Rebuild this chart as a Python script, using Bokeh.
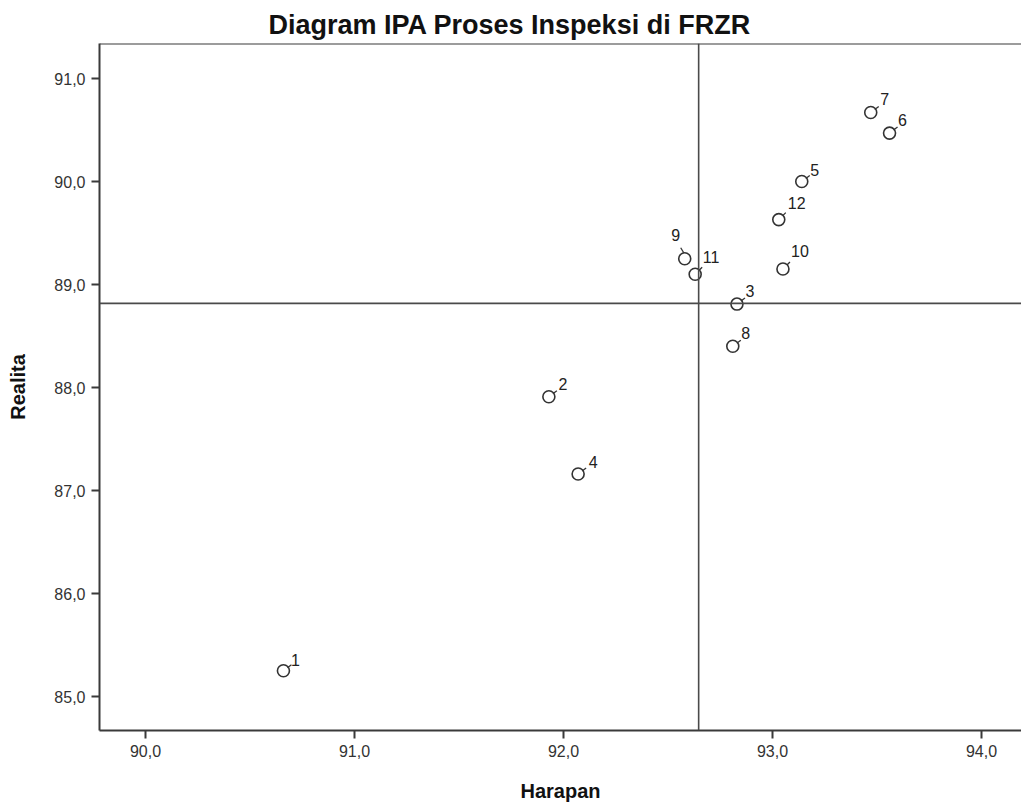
from bokeh.plotting import figure
from bokeh.models import Range1d, FixedTicker, Span, ColumnDataSource
from bokeh.core.properties import value
from bokeh.embed import file_html
from bokeh.resources import INLINE

# ---- data ----
point_ids = ["1", "2", "3", "4", "5", "6", "7", "8", "9", "10", "11", "12"]
harapan = [90.66, 91.93, 92.83, 92.07, 93.14, 93.56, 93.47, 92.81, 92.58, 93.05, 92.63, 93.03]
realita = [85.25, 87.91, 88.81, 87.16, 90.00, 90.47, 90.67, 88.40, 89.25, 89.15, 89.10, 89.63]

x_ticks = [90, 91, 92, 93, 94]
x_tick_labels = ["90,0", "91,0", "92,0", "93,0", "94,0"]
y_ticks = [85, 86, 87, 88, 89, 90, 91]
y_tick_labels = ["85,0", "86,0", "87,0", "88,0", "89,0", "90,0", "91,0"]

title_text = "Diagram IPA Proses Inspeksi di FRZR"
x_label = "Harapan"
y_label = "Realita"

# ---- style: label placement in screen pixels (dx right, dy down) ----
label_dx = [12, 14, 13, 15, 13, 13, 14, 13, -9, 17, 16, 18]
label_dy = [-11, -13, -13, -12, -12, -13, -13, -13, -24, -18, -17, -17]
lead_x0 = [4, 4, 4, 4, 4, 4, 4, 4, -1, 4, 4, 4]
lead_y0 = [-3, -3, -3, -3, -3, -3, -3, -3, -6, -4, -4, -4]
lead_x1 = [8, 8, 8, 8, 8, 8, 8, 8, -4, 7, 7, 7]
lead_y1 = [-6, -6, -6, -6, -6, -6, -6, -6, -11, -7, -7, -7]

FONT = "Liberation Sans"
W, H = 1021, 808
BL, BR, BT, BB = 99, 0, 43, 78
FW, FH = W - BL - BR, H - BT - BB
PPX, PPY = 209.0, 103.0  # pixels per unit
x0 = 90 - 46 / PPX
x1 = x0 + FW / PPX
y1 = 91 + 35 / PPY
y0 = y1 - FH / PPY

mean_x = sum(harapan) / len(harapan)
mean_y = sum(realita) / len(realita)

p = figure(width=W, height=H, x_range=Range1d(x0, x1), y_range=Range1d(y0, y1),
           output_backend="svg", toolbar_location=None,
           min_border_left=BL, min_border_right=BR, min_border_top=BT, min_border_bottom=BB)
p.outline_line_color = None
p.grid.visible = False
p.background_fill_color = "white"
p.border_fill_color = "white"

p.title.text = title_text
p.title.text_font = FONT
p.title.text_font_size = "27px"
p.title.text_font_style = "bold"
p.title.text_color = "#111111"
p.title.align = "left"
p.title.offset = 169
p.title.standoff = 8

AX = "#3a3a3a"
for ax in (p.xaxis[0], p.yaxis[0]):
    ax.axis_line_color = AX
    ax.axis_line_width = 2
    ax.major_tick_line_color = AX
    ax.major_tick_line_width = 2
    ax.major_tick_out = 8
    ax.major_tick_in = 0
    ax.minor_tick_line_color = None
    ax.major_label_text_font = FONT
    ax.major_label_text_font_size = "16px"
    ax.major_label_text_color = "#333333"
    ax.major_label_standoff = 6
    ax.axis_label_text_font = FONT
    ax.axis_label_text_font_size = "20px"
    ax.axis_label_text_font_style = "bold"
    ax.axis_label_text_color = "#111111"

p.xaxis.ticker = FixedTicker(ticks=x_ticks)
p.yaxis.ticker = FixedTicker(ticks=y_ticks)
p.xaxis.major_label_overrides = {t: l for t, l in zip(x_ticks, x_tick_labels)}
p.yaxis.major_label_overrides = {t: l for t, l in zip(y_ticks, y_tick_labels)}
p.xaxis.axis_label = x_label
p.yaxis.axis_label = y_label
p.xaxis.axis_label_standoff = 20
p.yaxis.axis_label_standoff = 22

# top frame border
p.add_layout(Span(location=y1, dimension="width", line_color=AX, line_width=2))
# reference lines at means
p.add_layout(Span(location=mean_x, dimension="height", line_color="#4a4a4a", line_width=1.6))
p.add_layout(Span(location=mean_y, dimension="width", line_color="#4a4a4a", line_width=1.6))

src = ColumnDataSource(dict(
    x=harapan, y=realita, t=point_ids,
    dx=label_dx, dy=label_dy,
    lx0=[a + b / PPX for a, b in zip(harapan, lead_x0)],
    ly0=[a - b / PPY for a, b in zip(realita, lead_y0)],
    lx1=[a + b / PPX for a, b in zip(harapan, lead_x1)],
    ly1=[a - b / PPY for a, b in zip(realita, lead_y1)],
))

p.segment(x0="lx0", y0="ly0", x1="lx1", y1="ly1", source=src, line_color="#333333", line_width=1.3)
p.scatter(x="x", y="y", source=src, marker="circle", size=12, fill_color=None,
          line_color="#333333", line_width=1.6)
p.text(x="x", y="y", text="t", source=src, x_offset="dx", y_offset="dy",
       text_align="center", text_baseline="middle", text_font=value(FONT),
       text_font_size="16px", text_color="#222222")

open("out.html", "w").write(file_html(p, INLINE))
